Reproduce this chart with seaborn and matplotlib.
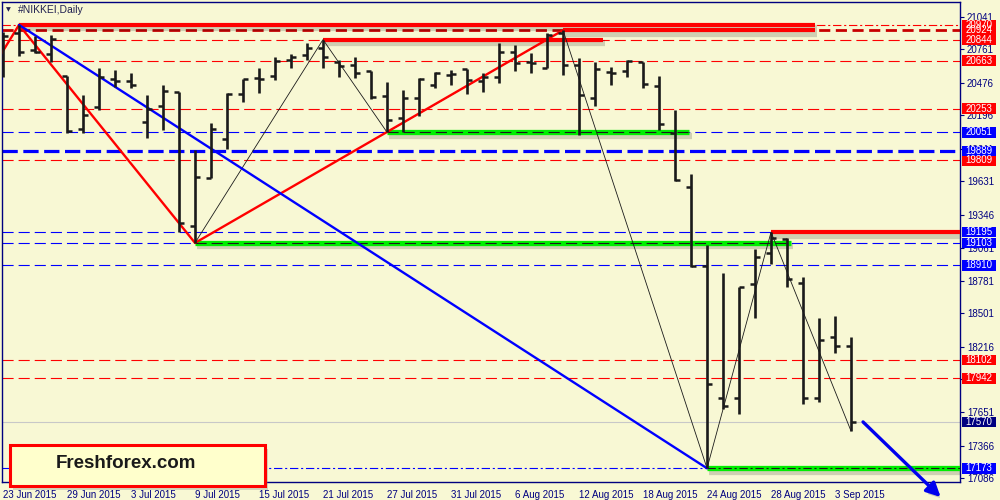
import numpy as np
import pandas as pd
import seaborn as sns
import matplotlib
matplotlib.use("Agg")
import matplotlib.pyplot as plt
import matplotlib.patheffects as pe
from matplotlib.patches import Rectangle
from matplotlib.transforms import blended_transform_factory

# daily bars 23 Jun - 4 Sep 2015
dates = pd.bdate_range("2015-06-23", "2015-09-04")
opens = [20687, 20901, 20755, 20721, 20533, 20079, 20267, 20507, 20490, 20139,
         20276, 20396, 19248, 19659, 19993, 20378, 20516, 20533, 20670, 20712,
         20772, 20653, 20627, 20575, 20361, 20173, 20344, 20456, 20545, 20593,
         20490, 20524, 20738, 20648, 20601, 20901, 20627, 20344, 20567, 20575,
         20653, 20447, 20045, 19582, 18905, 17775, 17775, 18751, 19017, 19137,
         18760, 17775, 18297, 18220]
highs = [20909, 20970, 20875, 20884, 20533, 20370, 20601, 20584, 20558, 20370,
         20456, 20396, 19899, 20130, 20387, 20507, 20601, 20695, 20721, 20815,
         20844, 20670, 20695, 20575, 20481, 20413, 20516, 20567, 20584, 20593,
         20558, 20815, 20798, 20730, 20901, 20924, 20687, 20653, 20610, 20670,
         20653, 20533, 20241, 19693, 19085, 18846, 18726, 19051, 19195, 19145,
         18811, 18460, 18477, 18297]
lows = [20524, 20704, 20730, 20653, 20045, 20045, 20241, 20438, 20430, 20002,
        20070, 19197, 19103, 19659, 19908, 20310, 20387, 20498, 20601, 20670,
        20601, 20524, 20516, 20336, 20051, 20053, 20190, 20430, 20456, 20378,
        20396, 20473, 20575, 20558, 20601, 20541, 20027, 20276, 20456, 20524,
        20430, 20070, 19633, 18897, 17173, 17681, 17638, 18460, 18923, 18726,
        17724, 17741, 18160, 17492]
closes = [20875, 20738, 20738, 20849, 20062, 20199, 20524, 20490, 20456, 20250,
          20404, 19274, 19668, 20079, 20378, 20507, 20507, 20661, 20695, 20772,
          20695, 20618, 20558, 20353, 20156, 20344, 20507, 20558, 20553, 20498,
          20524, 20738, 20644, 20640, 20884, 20627, 20370, 20593, 20562, 20661,
          20464, 20122, 19642, 18905, 17895, 17707, 18726, 18983, 19145, 18794,
          17775, 18272, 18220, 17570]

right_ticks = [21041, 20761, 20476, 20196, 19911, 19631, 19346, 19061,
               18781, 18501, 18216, 17936, 17651, 17366, 17086]
red_levels = [20970, 20924, 20844, 20663, 20253, 19809, 18102, 17942]
blue_levels = [20051, 19889, 19195, 19103, 18910, 17173]
last_price = 17570

# zigzag pivots (bar index, price)
red_zz_x = [-1, 1, 12, 35]
red_zz_y = [20524, 20970, 19103, 20924]
blue_zz_x = [1, 44]
blue_zz_y = [20970, 17173]
black_zz_x = [12, 20, 24, 35, 44, 48, 53]
black_zz_y = [19103, 20844, 20051, 20924, 17173, 19195, 17492]

# thick support / resistance segments: start bar, end bar, price
green_segs = [(24, 42.9, 20051), (12, 49.25, 19103), (44, 61, 17173)]
red_segs = [(1, 50.75, 20970), (35, 50.75, 20924), (20, 37.5, 20844), (48, 61, 19195)]

forecast_x = [53.75, 58.6]
forecast_y = [17570, 16927]

bg = "#F8F8D4"
navy = "#000080"
sns.set_theme(style="white")
plt.rcParams["font.family"] = ["Liberation Sans", "DejaVu Sans"]
plt.rcParams["lines.scale_dashes"] = False

fig = plt.figure(figsize=(10, 5), dpi=100, facecolor=bg)
ax = fig.add_axes([0.002, 0.036, 0.958, 0.96], facecolor=bg)
x = np.arange(len(dates))
ax.set_xlim(-0.0625, 59.81)
ax.set_ylim(17055.7, 21166)

dash = (0, (8, 3.6))
dashdot = (0, (6, 2, 1.5, 2))
shadow = [pe.SimpleLineShadow(offset=(1.5, -2.5), shadow_color="k", alpha=0.18, linewidth=4.5),
          pe.Normal()]

# level lines
for i, v in enumerate(red_levels):
    if i == 0:
        ax.axhline(v, color="red", lw=0.8, ls=dashdot, zorder=1)
    elif i == 1:
        ax.axhline(v, color="#C80000", lw=2, ls=(0, (8, 4)), zorder=1)
    else:
        ax.axhline(v, color="red", lw=0.8, ls=dash, zorder=1)
for v in blue_levels:
    if v == 19889:
        ax.axhline(v, color="#0000FF", lw=2.3, ls=(0, (11, 4)), zorder=1)
    elif v == 17173:
        ax.axhline(v, color="#0000FF", lw=0.8, ls=dashdot, zorder=1)
    else:
        ax.axhline(v, color="#0000FF", lw=0.8, ls=dash, zorder=1)
ax.axhline(last_price, color="#C8C8C8", lw=0.8, zorder=1)

# thick segments
for s, e, v in green_segs:
    ax.plot([s, e], [v, v], color="#00EE00", lw=3.8, solid_capstyle="butt",
            path_effects=shadow, zorder=3)
    ax.plot([s, e], [v, v], color="k", lw=0.8,
            ls=dashdot if v == 17173 else dash, zorder=3.5)
for s, e, v in red_segs:
    ax.plot([s, e], [v, v], color="#FF0000", lw=3, solid_capstyle="butt",
            path_effects=shadow, zorder=3)

# zigzags
sns.lineplot(x=black_zz_x, y=black_zz_y, ax=ax, color="k", lw=0.6,
             sort=False, estimator=None, zorder=4)
sns.lineplot(x=red_zz_x, y=red_zz_y, ax=ax, color="#FF0000", lw=1.7,
             sort=False, estimator=None, zorder=5)
sns.lineplot(x=blue_zz_x, y=blue_zz_y, ax=ax, color="#0000FF", lw=1.7,
             sort=False, estimator=None, zorder=5)

# OHLC bars
ax.vlines(x, lows, highs, color="k", lw=1.9, zorder=8)
ax.hlines(opens, x - 0.32, x, color="k", lw=1.8, zorder=8)
ax.hlines(closes, x, x + 0.32, color="k", lw=1.8, zorder=8)

# forecast arrow
arr = ax.annotate("", xy=(forecast_x[1], forecast_y[1]), xytext=(forecast_x[0], forecast_y[0]),
                  arrowprops=dict(arrowstyle="-|>,head_length=0.7,head_width=0.35",
                                  color="#0000EE", lw=2.4, shrinkA=0, shrinkB=0),
                  annotation_clip=False, zorder=9)
arr.arrow_patch.set_path_effects([pe.SimplePatchShadow(offset=(1.5, -2.5), alpha=0.2), pe.Normal()])

# axes styling
for sp in ax.spines.values():
    sp.set_color(navy)
    sp.set_linewidth(1)
ax.yaxis.tick_right()
ax.set_yticks(right_ticks)
ax.set_yticklabels([str(t) for t in right_ticks])
ax.tick_params(axis="y", direction="out", length=3, width=0.8, color=navy,
               labelcolor=navy, labelsize=7, pad=2)
ax.set_xticks(x[::4])
ax.set_xticklabels([f"{d.day} {d:%b %Y}" for d in dates[::4]], ha="left")
ax.tick_params(axis="x", direction="out", length=4, width=0.8, color=navy,
               labelcolor=navy, labelsize=7, pad=1.5)
ax.grid(False)

# price tags on the right
trans = blended_transform_factory(ax.transAxes, ax.transData)
half = 5.3 * (21166 - 17055.7) / 480
def tag(v, fc):
    ax.add_patch(Rectangle((1.002, v - half), 0.0355, 2 * half, transform=trans,
                           fc=fc, ec="none", clip_on=False, zorder=20))
    ax.text(1.002 + 0.01775, v, str(v), transform=trans, ha="center", va="center",
            fontsize=7, color="white", clip_on=False, zorder=21)
for v in red_levels:
    tag(v, "#FF0000")
for v in blue_levels:
    tag(v, "#0000FF")
tag(last_price, "#000080")

# title
ax.text(0.004, 0.983, "\u25BC", transform=ax.transAxes, fontsize=4.5, color="#202050",
        va="center", ha="left", family="DejaVu Sans")
ax.text(0.017, 0.983, "#NIKKEI,Daily", transform=ax.transAxes, fontsize=7.5,
        color="#202050", va="center", ha="left")

# logo box
fig.add_artist(Rectangle((0.013, 0.021), 0.255, 0.082, transform=fig.transFigure,
                         fc="gray", alpha=0.3, ec="none", zorder=9))
fig.add_artist(Rectangle((0.010, 0.028), 0.255, 0.082, transform=fig.transFigure,
                         fc="#FFFFCC", ec="red", lw=2.2, zorder=10))
fig.text(0.126, 0.072, "Freshforex.com", fontsize=13.5, fontweight="bold", color="k",
         ha="center", va="center", zorder=11)

fig.savefig("out.png", dpi=100, facecolor=bg)
